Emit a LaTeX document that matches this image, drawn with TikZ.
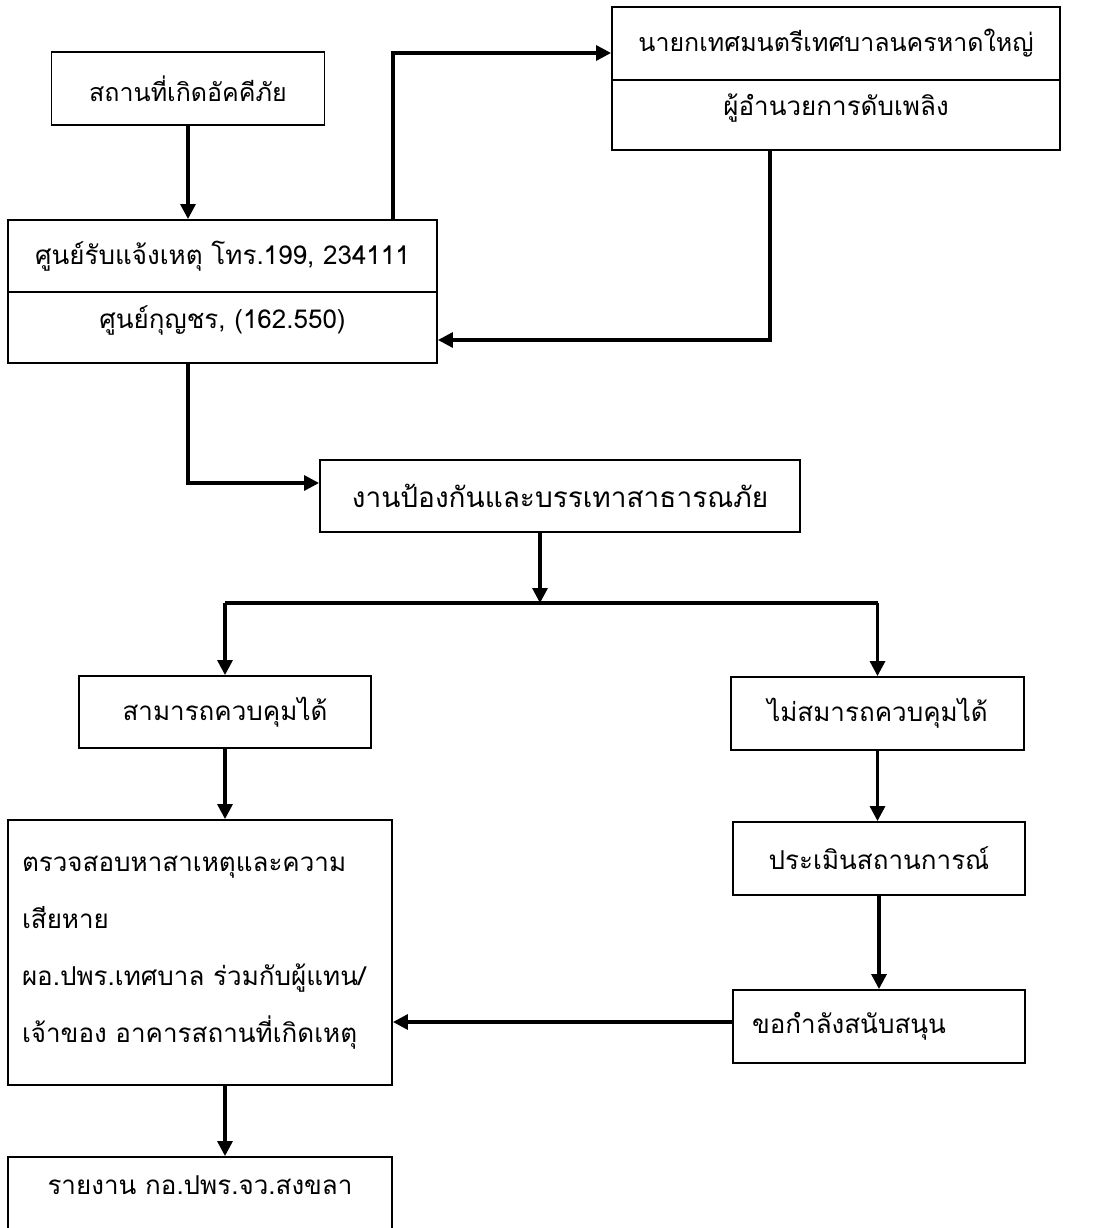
\documentclass[tikz,border=0pt]{standalone}
\usepackage{fontspec}
\setmainfont[Script=Thai]{Loma}
\usetikzlibrary{arrows.meta, positioning}
\tikzset{
  stepbox/.style={rectangle, draw=black, line width=1.9pt, fill=white, align=center,
                  inner sep=0pt, font=\fontsize{26}{57}\selectfont},
  arrow/.style={-{Triangle[length=15pt, width=15pt]}, line width=3.2pt},
  link/.style={line width=3.2pt}
}

\begin{document}
\begin{tikzpicture}[x=1pt, y=-1pt]
\useasboundingbox (0,0) rectangle (1102,1228);

\node (fire) [stepbox, minimum width=273pt, minimum height=73pt, font=\fontsize{25}{30}\selectfont] at (188,88.5) {สถานที่เกิดอัคคีภัย};
\node (centre) [stepbox, minimum width=429pt, minimum height=72pt] at (222.5,256) {ศูนย์รับแจ้งเหตุ โทร.199, 234111};
\node (centrelow) [stepbox, minimum width=429pt, minimum height=71pt, text depth=20pt] at (222.5,327.5) {ศูนย์กุญชร, (162.550)};
\node (mayor) [stepbox, minimum width=448pt, minimum height=73pt, font=\fontsize{25}{30}\selectfont] at (836,43.5) {นายกเทศมนตรีเทศบาลนครหาดใหญ่};
\node (mayorlow) [stepbox, minimum width=448pt, minimum height=70pt, text depth=20pt] at (836,115) {ผู้อำนวยการดับเพลิง};
\node (prevent) [stepbox, minimum width=480pt, minimum height=72pt, font=\fontsize{28}{30}\selectfont] at (560,496) {งานป้องกันและบรรเทาสาธารณภัย};
\node (ctrl) [stepbox, minimum width=292pt, minimum height=72pt] at (225,712) {สามารถควบคุมได้};
\node (noctrl) [stepbox, minimum width=293pt, minimum height=73pt] at (877.5,713.5) {ไม่สมารถควบคุมได้};
\node (inspect) [stepbox, minimum width=384pt, minimum height=265pt, text width=356pt, align=left] at (200,952.5)
  {ตรวจสอบหาสาเหตุและความ\\เสียหาย\\ผอ.ปพร.เทศบาล ร่วมกับผู้แทน/\\เจ้าของ อาคารสถานที่เกิดเหตุ};
\node (assess) [stepbox, minimum width=292pt, minimum height=73pt] at (879,858.5) {ประเมินสถานการณ์};
\node (support) [stepbox, minimum width=292pt, minimum height=73pt, text width=254pt, align=left] at (879,1026.5) {ขอกำลังสนับสนุน};
\node (report) [stepbox, minimum width=384pt, minimum height=72pt, text depth=16pt] at (200,1193) {รายงาน กอ.ปพร.จว.สงขลา};

\coordinate (fork) at (540,603);

% Arrows
\draw [arrow] (fire.south) -- (fire.south |- centre.north);
\draw [arrow] ([xshift=-45pt]centre.north east) |- ([yshift=-9.5pt]mayor.west);
\draw [arrow] ([xshift=-66pt]mayorlow.south) |- ([yshift=-12.5pt]centrelow.east);
\draw [arrow] (centrelow.south -| fire.south) |- ([yshift=13pt]prevent.west);
\draw [arrow] (prevent.south -| fork) -- (fork);
\draw [link] (ctrl.north |- fork) -- (noctrl.north |- fork);
\draw [arrow] (ctrl.north |- fork) -- (ctrl.north);
\draw [arrow] (noctrl.north |- fork) -- (noctrl.north);
\draw [arrow] (ctrl.south) -- (ctrl.south |- inspect.north);
\draw [arrow] (noctrl.south) -- (noctrl.south |- assess.north);
\draw [arrow] (assess.south) -- (support.north);
\draw [arrow] ([yshift=4.5pt]support.west) -- ([yshift=4.5pt]support.west -| inspect.east);
\draw [arrow] (inspect.south -| ctrl.south) -- (ctrl.south |- report.north);
\end{tikzpicture}
\end{document}
